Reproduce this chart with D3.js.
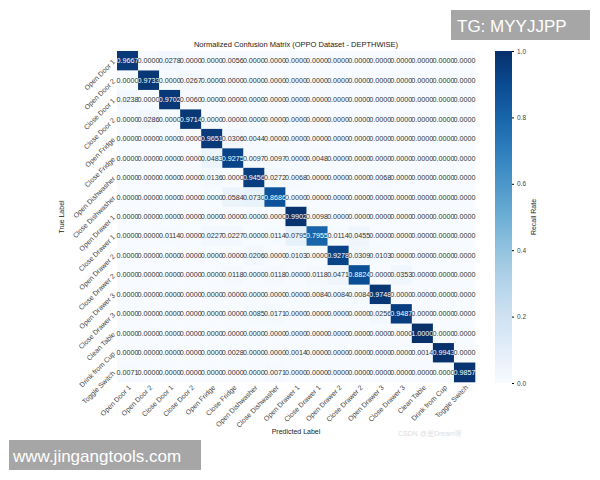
<!DOCTYPE html>
<html><head><meta charset="utf-8">
<script src="https://d3js.org/d3.v7.min.js"></script>
<style>body{margin:0;background:#fff}svg{font-family:"Liberation Sans",Arial,sans-serif}</style>
</head><body><svg id="c" width="600" height="480"></svg>
<script>
const labels=["Open Door 1","Open Door 2","Close Door 1","Close Door 2","Open Fridge","Close Fridge","Open Dishwasher","Close Dishwasher","Open Drawer 1","Close Drawer 1","Open Drawer 2","Close Drawer 2","Open Drawer 3","Close Drawer 3","Clean Table","Drink from Cup","Toggle Switch"];
// nonzero entries per row: [col, value]
const rowEntries=[
[[0,0.9667],[2,0.0278],[5,0.0056]],
[[1,0.9733],[3,0.0267]],
[[0,0.0238],[2,0.9702],[3,0.0060]],
[[1,0.0286],[3,0.9714]],
[[4,0.9651],[5,0.0306],[6,0.0044]],
[[4,0.0483],[5,0.9275],[6,0.0097],[7,0.0097],[9,0.0048]],
[[4,0.0136],[6,0.9456],[7,0.0272],[8,0.0068],[12,0.0068]],
[[5,0.0584],[6,0.0730],[7,0.8686]],
[[8,0.9902],[9,0.0098]],
[[2,0.0114],[4,0.0227],[5,0.0227],[7,0.0114],[8,0.0795],[9,0.7955],[10,0.0114],[11,0.0455]],
[[6,0.0206],[8,0.0103],[10,0.9278],[11,0.0309],[12,0.0103]],
[[5,0.0118],[7,0.0118],[9,0.0118],[10,0.0471],[11,0.8824],[13,0.0353]],
[[9,0.0084],[10,0.0084],[11,0.0084],[12,0.9748]],
[[6,0.0085],[7,0.0171],[12,0.0256],[13,0.9487]],
[[14,1.0000]],
[[5,0.0028],[8,0.0014],[14,0.0014],[15,0.9943]],
[[0,0.0071],[7,0.0071],[16,0.9857]]
];
const cbTicks=[0,0.2,0.4,0.6,0.8,1.0];
const cells=[];
rowEntries.forEach((r,i)=>{const row=new Array(labels.length).fill(0);r.forEach(([j,v])=>row[j]=v);row.forEach((v,j)=>cells.push({i,j,v}));});

const svg=d3.select("#c");
const L=117,R=475,T=51,B=382;
const x=d3.scaleBand().domain(labels).range([L,R]);
const y=d3.scaleBand().domain(labels).range([T,B]);
const color=d3.scaleSequential(d3.interpolateBlues).domain([0,1]);

svg.selectAll("rect.c").data(cells).join("rect").attr("class","c")
 .attr("x",d=>x(labels[d.j])).attr("y",d=>y(labels[d.i]))
 .attr("width",x.bandwidth()+0.3).attr("height",y.bandwidth()+0.3)
 .attr("fill",d=>color(d.v));
svg.selectAll("text.v").data(cells).join("text").attr("class","v")
 .attr("x",d=>x(labels[d.j])+x.bandwidth()/2).attr("y",d=>y(labels[d.i])+y.bandwidth()/2)
 .attr("text-anchor","middle").attr("dominant-baseline","central")
 .attr("font-size",7.2).attr("fill",d=>d.v>0.5?"#fff":"#333").text(d=>d.v.toFixed(4));

const gx=svg.append("g").attr("transform",`translate(0,${B})`).call(d3.axisBottom(x).tickSize(0));
gx.select(".domain").remove();
gx.selectAll("text").attr("font-size",7).style("fill","#444").attr("text-anchor","end")
 .attr("transform","rotate(-45)").attr("dx","-0.2em").attr("dy","0.6em");
const gy=svg.append("g").attr("transform",`translate(${L},0)`).call(d3.axisLeft(y).tickSize(0));
gy.select(".domain").remove();
gy.selectAll("text").attr("font-size",7).style("fill","#444").attr("text-anchor","end")
 .attr("transform","rotate(-45,-3,0)");

svg.append("text").attr("x",296).attr("y",47).attr("text-anchor","middle").attr("font-size",7.5).attr("fill","#222")
 .text("Normalized Confusion Matrix (OPPO Dataset - DEPTHWISE)");
svg.append("text").attr("x",296).attr("y",434).attr("text-anchor","middle").attr("font-size",7).attr("fill","#222").text("Predicted Label");
svg.append("text").attr("transform","translate(64,217) rotate(-90)").attr("text-anchor","middle").attr("font-size",7).attr("fill","#222").text("True Label");

// colorbar
const defs=svg.append("defs");
const gr=defs.append("linearGradient").attr("id","g").attr("x1",0).attr("y1",1).attr("x2",0).attr("y2",0);
d3.range(0,1.01,0.1).forEach(t=>gr.append("stop").attr("offset",t).attr("stop-color",color(t)));
const cy=d3.scaleLinear().domain([0,1]).range([383,51]);
svg.append("rect").attr("x",495).attr("y",51).attr("width",17).attr("height",332).attr("fill","url(#g)");
const gc=svg.append("g").attr("transform","translate(512,0)").call(d3.axisRight(cy).tickValues(cbTicks).tickFormat(d3.format(".1f")).tickSize(2));
gc.select(".domain").remove();
gc.selectAll("text").attr("font-size",6.5).style("fill","#444");
svg.append("text").attr("transform","translate(536,217) rotate(-90)").attr("text-anchor","middle").attr("font-size",7).attr("fill","#222").text("Recall Rate");

// overlays
svg.append("rect").attr("x",451).attr("y",10).attr("width",139).attr("height",30).attr("fill","#a6a6a6");
svg.append("text").attr("x",457).attr("y",32).attr("font-size",17).attr("fill","#fff").text("TG: MYYJJPP");
svg.append("rect").attr("x",9).attr("y",440).attr("width",192).attr("height",30).attr("fill","#a6a6a6");
svg.append("text").attr("x",13).attr("y",462).attr("font-size",17).attr("fill","#fff").text("www.jingangtools.com");
svg.append("text").attr("x",398).attr("y",436).attr("font-size",7).attr("fill","#ddd").text("CSDN @是Dream呀");
</script></body></html>
